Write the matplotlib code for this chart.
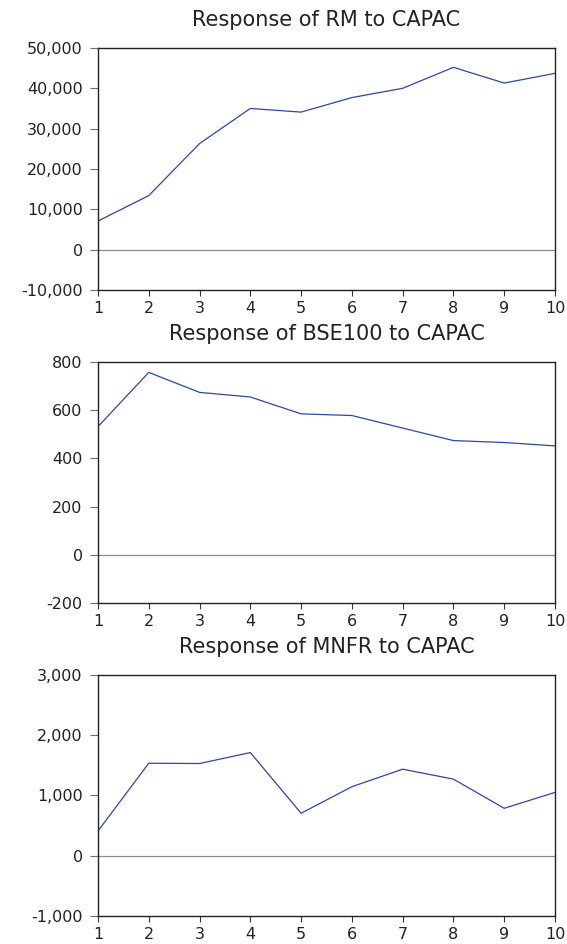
import matplotlib
matplotlib.use("Agg")
import matplotlib.pyplot as plt
from matplotlib.ticker import FuncFormatter

periods = [1, 2, 3, 4, 5, 6, 7, 8, 9, 10]

rm_resp = [7100, 13400, 26300, 35000, 34100, 37700, 40000, 45200, 41300, 43700]
bse_resp = [532, 757, 674, 655, 585, 578, 526, 474, 466, 452]
mnfr_resp = [410, 1535, 1530, 1712, 705, 1145, 1436, 1271, 787, 1051]

titles = ["Response of RM to CAPAC",
          "Response of BSE100 to CAPAC",
          "Response of MNFR to CAPAC"]
y_ranges = [(-10000, 50000, 10000), (-200, 800, 200), (-1000, 3000, 1000)]

# axes boxes in figure fractions [left, bottom, width, height]
boxes = [[0.1728, 0.6928, 0.806, 0.2564],
         [0.1728, 0.3612, 0.806, 0.2553],
         [0.1728, 0.0297, 0.806, 0.2553]]

fig = plt.figure(figsize=(5.67, 9.44), dpi=100)

for box, series, title, (lo, hi, step) in zip(boxes, [rm_resp, bse_resp, mnfr_resp], titles, y_ranges):
    ax = fig.add_axes(box)
    ax.axhline(0, color="#8a8a8a", linewidth=0.9, zorder=1)
    ax.plot(periods, series, color="#2b47a8", linewidth=0.9, zorder=2)
    ax.set_xlim(1, 10)
    ax.set_ylim(lo, hi)
    ax.set_xticks(periods)
    ax.set_yticks(range(lo, hi + 1, step))
    ax.yaxis.set_major_formatter(FuncFormatter(lambda v, p: f"{int(v):,}"))
    ax.tick_params(axis="y", direction="out", length=6, width=0.8, pad=5,
                   color="#707070", labelsize=11.5, labelcolor="#222222")
    ax.tick_params(axis="x", direction="out", length=4, width=0.8, pad=4,
                   color="#333333", labelsize=11.5, labelcolor="#222222")
    for s in ax.spines.values():
        s.set_linewidth(1.0)
        s.set_color("#222222")
    ax.set_title(title, fontsize=15, color="#222222", pad=16)

fig.savefig("out.png", dpi=100)
